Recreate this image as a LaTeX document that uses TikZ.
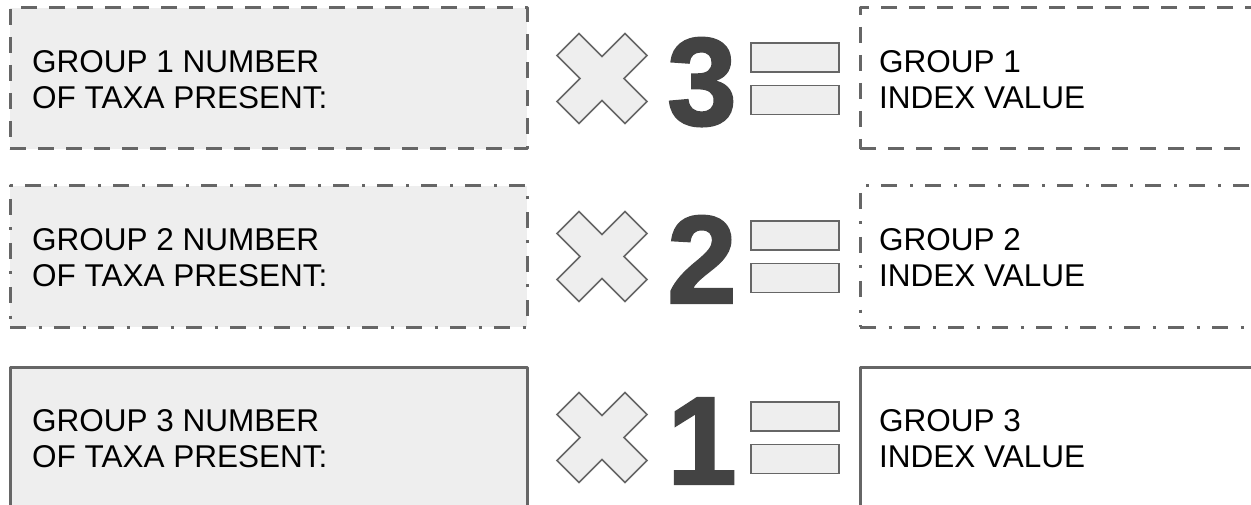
\documentclass[tikz,border=0pt]{standalone}
\usepackage{fontspec}
\setmainfont{Liberation Sans}
\newfontfamily\heavyfont[BoldFeatures={FakeBold=1.8}]{Liberation Sans}
\definecolor{edge}{HTML}{666666}
\definecolor{boxfill}{HTML}{EEEEEE}
\definecolor{digit}{HTML}{434343}
\begin{document}
\begin{tikzpicture}[x=1pt,y=-1pt,
  leftbox/.style={draw=edge, line width=3pt, fill=boxfill, minimum width=517pt, minimum height=141pt, inner sep=0pt, line join=round},
  rightbox/.style={draw=edge, line width=3pt, fill=white, minimum width=410pt, minimum height=141pt, inner sep=0pt, line join=round},
  dashedline/.style={dash pattern=on 16pt off 12pt},
  dashdotline/.style={dash pattern=on 16pt off 12.5pt on 3pt off 12.5pt},
  lbl/.style={font=\fontsize{31.5}{36.5}\selectfont, align=left, anchor=west, inner sep=0pt, text=black},
  bignum/.style={font=\heavyfont\fontsize{125}{125}\selectfont\bfseries, text=digit, anchor=base west, inner sep=0pt},
  eqbar/.style={draw=edge, line width=1.5pt, fill=boxfill, minimum width=88pt, minimum height=29pt, inner sep=0pt},
  timesmark/.style={draw=edge, line width=1.5pt, fill=boxfill, line join=miter}
]
\useasboundingbox (0,0) rectangle (1251,505);
\clip (0,0) rectangle (1251,505);

% ---------- row 1 ----------
\node[leftbox, dashedline] (L1) at (268.5,78.5) {};
\node[lbl] (LT1) at (32,79.5) {GROUP 1 NUMBER\\OF TAXA PRESENT:};
\coordinate (X1) at (602,78.5);
\draw[timesmark, shift={(X1)}] (0,-22) -- (23,-45) -- (45,-23) -- (22,0) -- (45,23) -- (23,45) -- (0,22) -- (-23,45) -- (-45,23) -- (-22,0) -- (-45,-23) -- (-23,-45) -- cycle;
\node[bignum] (N1) at (667,125) {3};
\node[eqbar] (EA1) at (795,57.5) {};
\node[eqbar] (EB1) at (795,100) {};
\node[rightbox, dashedline] (R1) at (1065,78.5) {};
\node[lbl] (RT1) at (879,79.5) {GROUP 1\\INDEX VALUE};

% ---------- row 2 ----------
\node[leftbox, dashdotline] (L2) at (268.5,256.5) {};
\node[lbl] (LT2) at (32,257.5) {GROUP 2 NUMBER\\OF TAXA PRESENT:};
\coordinate (X2) at (602,256.5);
\draw[timesmark, shift={(X2)}] (0,-22) -- (23,-45) -- (45,-23) -- (22,0) -- (45,23) -- (23,45) -- (0,22) -- (-23,45) -- (-45,23) -- (-22,0) -- (-45,-23) -- (-23,-45) -- cycle;
\node[bignum] (N2) at (667,303) {2};
\node[eqbar] (EA2) at (795,235.5) {};
\node[eqbar] (EB2) at (795,278) {};
\node[rightbox, dashdotline] (R2) at (1065,256.5) {};
\node[lbl] (RT2) at (879,257.5) {GROUP 2\\INDEX VALUE};

% ---------- row 3 ----------
\node[leftbox, solid] (L3) at (268.5,437.5) {};
\node[lbl] (LT3) at (32,438.5) {GROUP 3 NUMBER\\OF TAXA PRESENT:};
\coordinate (X3) at (602,437.5);
\draw[timesmark, shift={(X3)}] (0,-22) -- (23,-45) -- (45,-23) -- (22,0) -- (45,23) -- (23,45) -- (0,22) -- (-23,45) -- (-45,23) -- (-22,0) -- (-45,-23) -- (-23,-45) -- cycle;
\node[bignum] (N3) at (667,484) {1};
\node[eqbar] (EA3) at (795,416.5) {};
\node[eqbar] (EB3) at (795,459) {};
\node[rightbox, solid] (R3) at (1065,437.5) {};
\node[lbl] (RT3) at (879,438.5) {GROUP 3\\INDEX VALUE};
\end{tikzpicture}
\end{document}
